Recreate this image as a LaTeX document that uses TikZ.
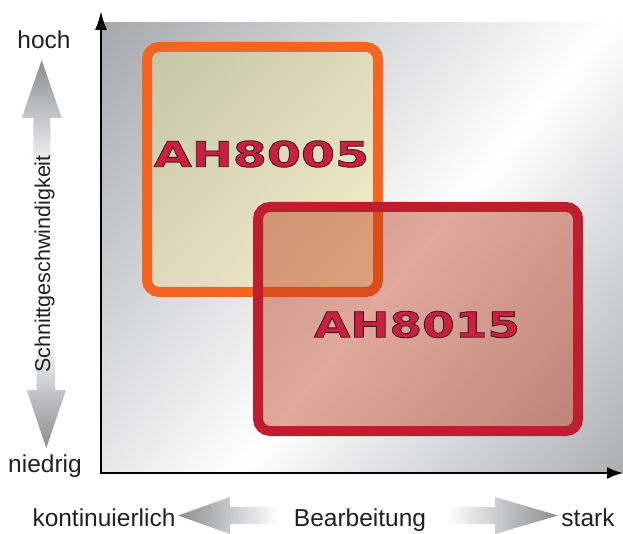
\documentclass[tikz,border=0pt]{standalone}
\usepackage{fontspec}
\setmainfont{Liberation Sans}
\newfontfamily\logofontA{DejaVu Sans}[FakeStretch=1.4,FakeBold=2.5]
\newfontfamily\logofontB{DejaVu Sans}[FakeStretch=1.34,FakeBold=2.5]
\usetikzlibrary{arrows.meta,shadings}
\definecolor{textdark}{RGB}{35,31,32}
\definecolor{bgA}{RGB}{166,167,171}
\definecolor{bgB}{RGB}{170,171,175}
\definecolor{orA}{RGB}{198,196,166}
\definecolor{orB}{RGB}{247,242,205}
\definecolor{orM}{RGB}{222,218,186}
\definecolor{orstroke}{RGB}{242,101,34}
\definecolor{redstroke}{RGB}{191,30,46}
\definecolor{redfill}{RGB}{185,48,18}
\definecolor{arrgray}{RGB}{140,141,145}
% logo text: filled red, stroked dark (fill colour, stroke colour)
\newcommand\outlined[1]{\special{pdf:bcolor [0.784 0.125 0.243] [0.227 0.110 0.118]}#1\special{pdf:ecolor}}
\begin{document}
\begin{tikzpicture}[x=1pt,y=1pt,
  lbl/.style={inner sep=0pt, font=\fontsize{24.5}{28}\selectfont, text=textdark},
  boxA/.style={draw=orstroke, line width=10pt, rounded corners=12pt, shade,
    upper left=orA, lower right=orB, upper right=orM, lower left=orM, inner sep=0pt},
  boxB/.style={draw=redstroke, line width=10pt, rounded corners=12pt,
    fill=redfill, fill opacity=0.42, draw opacity=1, inner sep=0pt},
  logoA/.style={inner sep=0pt, font=\logofontA\bfseries\fontsize{35}{40}\selectfont},
  logoB/.style={inner sep=0pt, font=\logofontB\bfseries\fontsize{35}{40}\selectfont},
  axis/.style={line width=2pt, draw=black},
]
\useasboundingbox (0,0) rectangle (623,533);
% background
\begin{scope}
  \clip (101,60) rectangle (623,510);
  \begin{scope}[transform canvas={rotate around={50.3:(424,285)}}]
    \shade[bottom color=white, top color=bgA] (-276,284.5) rectangle (1124,685);
    \shade[top color=white, bottom color=bgB] (-276,-25) rectangle (1124,285.5);
  \end{scope}
\end{scope}
% boxes
\node[boxA, minimum width=231pt, minimum height=245pt] (b1) at (262.5,363.5) {};
\node[logoA] (t1) at (261.5,379) {\outlined{AH8005}};
\node[boxB, minimum width=320pt, minimum height=224pt] (b2) at (418,214) {};
\node[logoB] (t2) at (417,208.5) {\outlined{AH8015}};
% axes
\coordinate (ytip) at (101,522);
\coordinate (o) at (101,60);
\coordinate (xtip) at (623,60);
\draw[axis, {Latex[length=19pt,width=12pt]}-{Latex[length=16pt,width=12pt]}] (ytip) -- (o) -- (xtip);
% vertical arrows
\shade[top color=arrgray, bottom color=white]
  (33.3,358) -- (33.3,415) -- (21.7,415) -- (41.7,473) -- (61.7,415) -- (50.3,415) -- (50.3,358) -- cycle;
\shade[top color=white, bottom color=arrgray]
  (36.7,198) -- (36.7,143) -- (26.7,143) -- (46.3,85) -- (66,143) -- (55,143) -- (55,198) -- cycle;
% horizontal arrows
\shade[left color=arrgray, right color=white]
  (178,17.5) -- (230,36) -- (230,26) -- (278,26) -- (278,9) -- (230,9) -- (230,-1) -- cycle;
\shade[left color=white, right color=arrgray]
  (558,17.5) -- (495,36) -- (495,26) -- (447,26) -- (447,9) -- (495,9) -- (495,-1) -- cycle;
% labels
\node[lbl, anchor=base] (hoch) at (44,484) {hoch};
\node[lbl, anchor=base] (niedrig) at (45,61) {niedrig};
\node[lbl, anchor=base] (kont) at (104,7) {kontinuierlich};
\node[lbl, anchor=base] (bearb) at (360,7) {Bearbeitung};
\node[lbl, anchor=base] (stark) at (588,7) {stark};
\node[lbl, anchor=base, rotate=90, font=\fontsize{21.5}{24}\selectfont] (schnitt) at (50,269) {Schnittgeschwindigkeit};
\end{tikzpicture}
\end{document}
